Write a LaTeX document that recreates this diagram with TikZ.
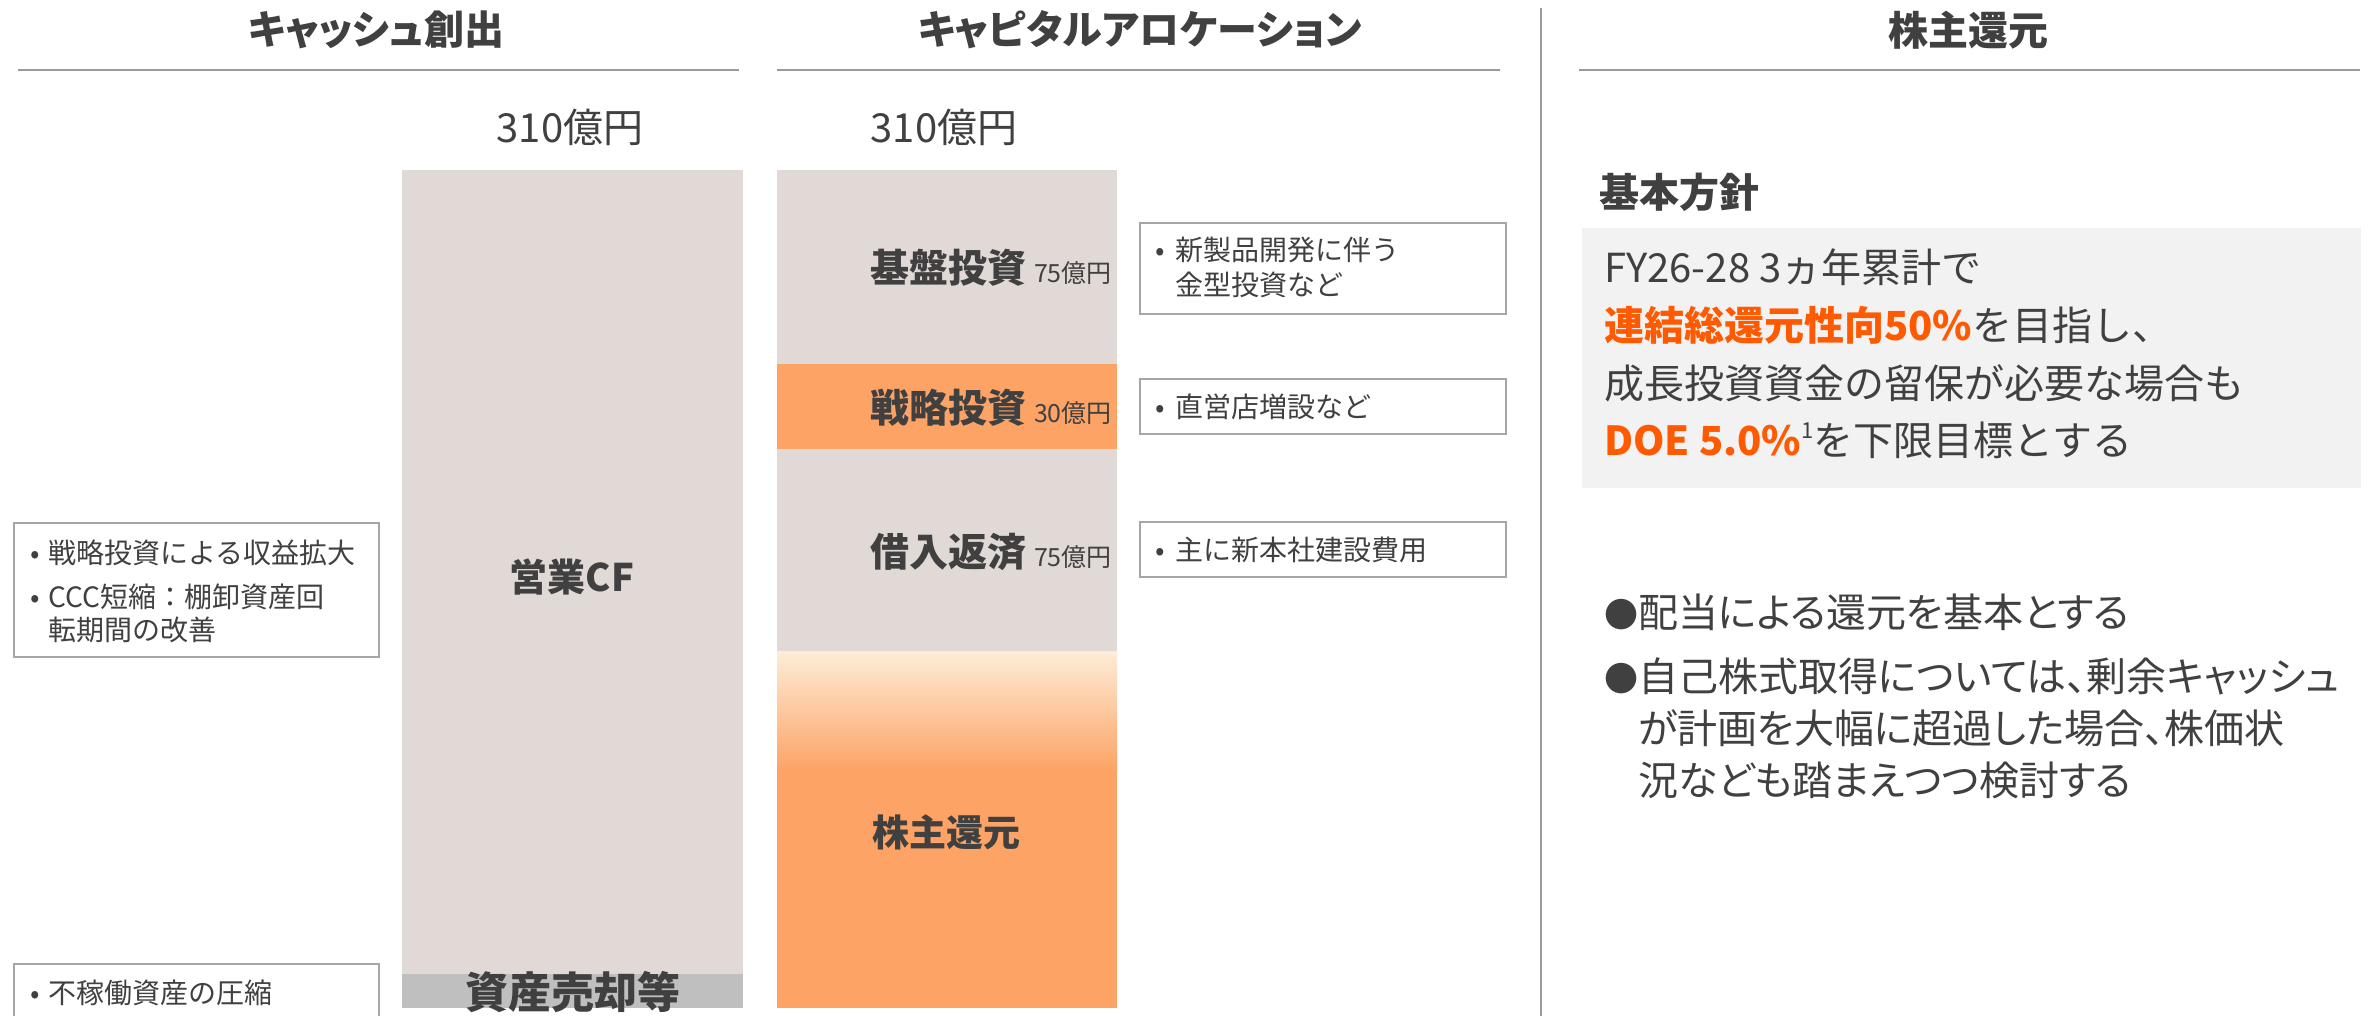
\documentclass[tikz,border=0pt]{standalone}
\usepackage{fontspec}
\setmainfont{Noto Sans CJK JP}
\newfontfamily\pfont{Noto Sans CJK JP}[RawFeature=+palt]
\definecolor{txt}{HTML}{404040}
\definecolor{barg}{HTML}{E0D9D6}
\definecolor{bandg}{HTML}{BFBFBF}
\definecolor{orfill}{HTML}{FDA365}
\definecolor{cream}{HTML}{FDEDD8}
\definecolor{yel}{HTML}{F8D797}
\definecolor{ortxt}{HTML}{FF5A00}
\definecolor{rulec}{HTML}{9A9A9A}
\definecolor{boxc}{HTML}{A6A6A6}
\definecolor{panel}{HTML}{F2F2F2}
\newcommand{\fs}[1]{\fontsize{#1}{#1}\selectfont}
\begin{document}
\begin{tikzpicture}[x=1pt,y=-1pt,
  lbl/.style={inner sep=0pt, text=txt, font=\fs{28}},
  ttl/.style={inner sep=0pt, text=txt, font=\pfont\bfseries\fs{40}},
  amt/.style={inner sep=0pt, text=txt, font=\fs{40}},
  barlbl/.style={inner sep=0pt, text=txt, font=\bfseries\fs{37}},
  body/.style={inner sep=0pt, text=txt, font=\fs{40}, anchor=west},
  bul/.style={inner sep=0pt, text=txt, font=\pfont\fs{40}, anchor=west},
  rulest/.style={draw=rulec, line width=2.5pt},
  boxst/.style={draw=boxc, line width=2pt, fill=white}
]
\useasboundingbox (0,0) rectangle (2380,1016);
\fill[white] (0,0) rectangle (2380,1016);

% titles and rules
\node[ttl] (t1) at (376,30) {キャッシュ創出};
\node[ttl] (t2) at (1140,30) {キャピタルアロケーション};
\node[ttl] (t3) at (1968,30) {株主還元};
\draw[rulest] (18,70) -- (739,70);
\draw[rulest] (777,70) -- (1500,70);
\draw[rulest] (1579,70) -- (2360,70);
\draw[rulest] (1541,8) -- (1541,1016);

% amounts
\node[amt] (a1) at (570,127) {310億円};
\node[amt] (a2) at (944,127) {310億円};

% cash bar
\fill[barg] (402,170) rectangle (743,1008);
\fill[bandg] (402,974) rectangle (743,1008);
\node[inner sep=0pt, text=txt, font=\bfseries\fs{38}] (opcf) at (572,577) {営業CF};
\node[inner sep=0pt, text=txt, font=\bfseries\fs{43}] (sale) at (573,992) {資産売却等};

% left boxes
\draw[boxst] (14,523) rectangle (379,657);
\node[lbl, anchor=west] (l1) at (30,553) {\makebox[18pt][l]{•}戦略投資による収益拡大};
\node[lbl, anchor=west] (l2) at (30,597) {\makebox[18pt][l]{•}CCC短縮：棚卸資産回};
\node[lbl, anchor=west] (l3) at (48,630) {転期間の改善};
\draw[boxst] (14,964) rectangle (379,1040);
\node[lbl, anchor=west] (l4) at (30,993) {\makebox[18pt][l]{•}不稼働資産の圧縮};

% allocation bar
\fill[barg] (777,170) rectangle (1117,364);
\fill[orfill] (777,364) rectangle (1117,449);
\fill[barg] (777,449) rectangle (1117,651);
\fill[orfill] (777,651) rectangle (1117,1008);
\shade[top color=cream, middle color=yel, bottom color=orfill] (777,651) rectangle (1117,770);
\node[inner sep=0pt, text=txt, anchor=east] (kiban) at (1112,268) {{\bfseries\fs{39}基盤投資}\hspace{8pt}{\fs{25}75億円}};
\node[inner sep=0pt, text=txt, anchor=east] (senryaku) at (1112,408) {{\bfseries\fs{39}戦略投資}\hspace{8pt}{\fs{25}30億円}};
\node[inner sep=0pt, text=txt, anchor=east] (kariire) at (1112,552) {{\bfseries\fs{39}借入返済}\hspace{8pt}{\fs{25}75億円}};
\node[barlbl] (kabu) at (946,832) {株主還元};

% right boxes
\draw[boxst] (1140,223) rectangle (1506,314);
\node[lbl, anchor=west] (r1) at (1155,250) {\makebox[20pt][l]{•}新製品開発に伴う};
\node[lbl, anchor=west] (r2) at (1175,285) {金型投資など};
\draw[boxst] (1140,379) rectangle (1506,434);
\node[lbl, anchor=west] (r3) at (1155,407) {\makebox[20pt][l]{•}直営店増設など};
\draw[boxst] (1140,522) rectangle (1506,577);
\node[lbl, anchor=west] (r4) at (1155,550) {\makebox[20pt][l]{•}主に新本社建設費用};

% policy panel
\node[inner sep=0pt, text=txt, font=\bfseries\fs{40}, anchor=west] (kihon) at (1599,192) {基本方針};
\fill[panel] (1582,228) rectangle (2361,488);
\node[body] (p1) at (1604,267) {FY26-28 3ヵ年累計で};
\node[body] (p2) at (1604,325) {{\bfseries\color{ortxt}連結総還元性向50\%}を目指し、};
\node[body] (p3) at (1604,383) {成長投資資金の留保が必要な場合も};
\node[body] (p4) at (1604,440) {{\bfseries\color{ortxt}DOE 5.0\%}\raisebox{17pt}{\fs{22}1}を下限目標とする};

% bullets
\node[bul] (b1) at (1604,612) {\makebox[34pt][l]{\fs{34}●}配当による還元を基本とする};
\node[bul] (b2) at (1604,676) {\makebox[34pt][l]{\fs{34}●}自己株式取得については、剰余キャッシュ};
\node[bul] (b3) at (1638,728) {が計画を大幅に超過した場合、株価状};
\node[bul] (b4) at (1638,780) {況なども踏まえつつ検討する};
\end{tikzpicture}
\end{document}
